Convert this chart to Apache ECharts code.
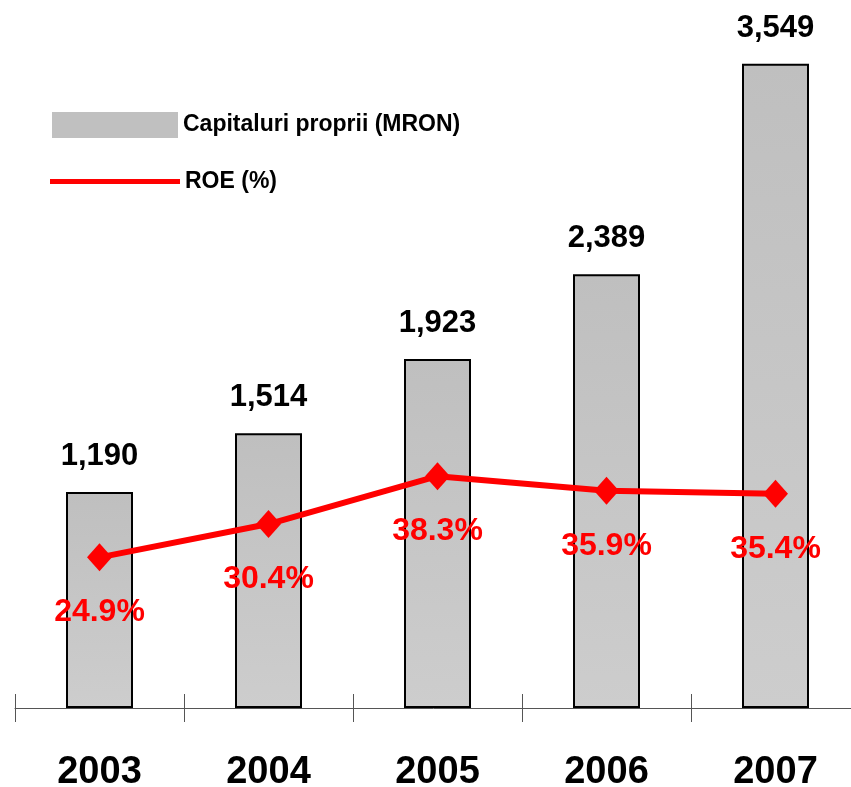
<!DOCTYPE html>
<html>
<head>
	<meta charset="UTF-8">
	<title>Capitaluri proprii si ROE</title>
	<style>
		html, body{margin: 0;padding: 0;background: #fff;}
		#chart{width: 851px;height: 787px;}
	</style>
</head>
<body>
<div id="chart"></div>
<script src="https://cdn.jsdelivr.net/npm/echarts@6/dist/echarts.min.js"></script>
<script type="text/javascript">
    // date
    var years = ['2003', '2004', '2005', '2006', '2007'];
    var capital = [1190, 1514, 1923, 2389, 3549];   // MRON
    var roe = [24.9, 30.4, 38.3, 35.9, 35.4];        // %

    var font = '"Liberation Sans", Arial, sans-serif';
    var chart = echarts.init(document.getElementById('chart'));

    chart.setOption({
        animation: false,
        textStyle: {fontFamily: font},
        grid: {left: 15, width: 845, top: 0, bottom: 79, containLabel: false, outerBoundsMode: 'none'},
        legend: [
            {
                data: [{name: 'Capitaluri proprii (MRON)', icon: 'rect', itemStyle: {borderWidth: 0, color: '#c0c0c0'}}],
                left: 52, top: 112, padding: 0,
                itemWidth: 126, itemHeight: 26,
                selectedMode: false,
                textStyle: {fontSize: 23, fontWeight: 'bold', color: '#000', fontFamily: font, padding: [5, 0, 0, 0]}
            },
            {
                data: [{name: 'ROE (%)', icon: 'rect'}],
                left: 50, top: 170, padding: 0,
                itemWidth: 130, itemHeight: 5,
                selectedMode: false,
                textStyle: {fontSize: 23, fontWeight: 'bold', color: '#000', fontFamily: font}
            }
        ],
        xAxis: [
            {
                type: 'category',
                data: years,
                axisLine: {lineStyle: {color: '#555', width: 1}},
                axisTick: {show: true, length: 14, lineStyle: {color: '#555'}},
                axisLabel: {
                    margin: 46,
                    fontSize: 38, fontWeight: 'bold', color: '#000', fontFamily: font
                }
            },
            {
                // ticks deasupra liniei axei
                type: 'category',
                data: years,
                position: 'top',
                offset: -708,
                axisLine: {show: false},
                axisTick: {show: true, length: 14, lineStyle: {color: '#555'}},
                axisLabel: {show: false}
            }
        ],
        yAxis: [
            {type: 'value', min: 0, max: 3900, show: false, splitLine: {show: false}},
            {type: 'value', min: 0, max: 117, show: false, splitLine: {show: false}}
        ],
        series: [
            {
                name: 'Capitaluri proprii (MRON)',
                type: 'bar',
                data: capital,
                barWidth: 67,
                itemStyle: {
                    color: new echarts.graphic.LinearGradient(0, 0, 0, 1, [
                        {offset: 0, color: '#bfbfbf'},
                        {offset: 1, color: '#cdcdcd'}
                    ]),
                    borderColor: '#000', borderWidth: 2
                },
                label: {
                    show: true,
                    position: 'top',
                    distance: 20,
                    fontSize: 31, fontWeight: 'bold', color: '#000', fontFamily: font,
                    formatter: function (p) {
                        return p.value.toLocaleString('en-US');
                    }
                },
                z: 2
            },
            {
                name: 'ROE (%)',
                type: 'line',
                yAxisIndex: 1,
                data: roe,
                symbol: 'diamond',
                symbolSize: [25, 28],
                lineStyle: {color: '#ff0000', width: 6},
                itemStyle: {color: '#ff0000'},
                label: {
                    show: true,
                    position: 'bottom',
                    distance: 25,
                    fontSize: 32, fontWeight: 'bold', color: '#ff0000', fontFamily: font,
                    formatter: function (p) {
                        return p.value.toFixed(1) + '%';
                    }
                },
                z: 3
            }
        ]
    });
</script>
</body>
</html>
